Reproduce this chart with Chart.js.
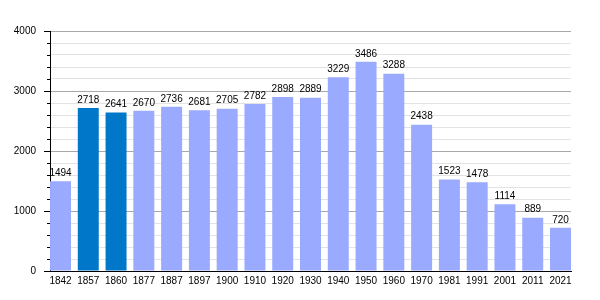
<!DOCTYPE html>
<html>
<head>
<meta charset="utf-8">
<script src="https://cdn.jsdelivr.net/npm/chart.js@4.4.1/dist/chart.umd.min.js"></script>
<style>
  html, body { margin: 0; padding: 0; background: #fff; }
  #wrap { width: 600px; height: 300px; }
</style>
</head>
<body>
<div id="wrap"><canvas id="pop-chart" width="600" height="300"></canvas></div>
<script>
var years = ['1842', '1857', '1860', '1877', '1887', '1897', '1900', '1910', '1920', '1930',
             '1940', '1950', '1960', '1970', '1981', '1991', '2001', '2011', '2021'];
var population = [1494, 2718, 2641, 2670, 2736, 2681, 2705, 2782, 2898, 2889,
                  3229, 3486, 3288, 2438, 1523, 1478, 1114, 889, 720];
var highlightYears = ['1857', '1860'];
var yTicks = [0, 1000, 2000, 3000, 4000];

var fontFam = '"Liberation Sans", Arial, sans-serif';

// value above every bar
var barLabels = {
  id: 'barLabels',
  afterDatasetsDraw: function (chart) {
    var c = chart.ctx;
    var meta = chart.getDatasetMeta(0);
    c.save();
    c.font = '10px ' + fontFam;
    c.fillStyle = '#000';
    c.textAlign = 'center';
    c.textBaseline = 'bottom';
    meta.data.forEach(function (bar, i) {
      c.fillText(population[i], bar.x, bar.y - 3);
    });
    c.restore();
  }
};

// short ticks every 200, long ones every 1000
var yTickMarks = {
  id: 'yTickMarks',
  afterDraw: function (chart) {
    var c = chart.ctx;
    var y = chart.scales.y;
    var left = chart.chartArea.left;
    c.save();
    c.strokeStyle = '#000';
    c.lineWidth = 1;
    for (var v = 0; v <= 4000; v += 200) {
      var py = Math.round(y.getPixelForValue(v)) + 0.5;
      var len = v % 1000 === 0 ? 6 : 3;
      c.beginPath();
      c.moveTo(left - len, py);
      c.lineTo(left, py);
      c.stroke();
    }
    c.restore();
  }
};

var ctx = document.getElementById('pop-chart').getContext('2d');
new Chart(ctx, {
  type: 'bar',
  data: {
    datasets: [{
      data: population.map(function (v, i) { return { x: i, y: v }; }),
      backgroundColor: years.map(function (y) {
        return highlightYears.indexOf(y) >= 0 ? '#0077c8' : '#99aaff';
      }),
      barPercentage: 0.755,
      categoryPercentage: 1
    }]
  },
  options: {
    responsive: false,
    animation: false,
    layout: { padding: { left: 0, right: 29, top: 31, bottom: 0 } },
    plugins: {
      legend: { display: false },
      tooltip: { enabled: false }
    },
    scales: {
      x: {
        type: 'linear',
        offset: false,
        min: -0.378,
        max: years.length - 1 + 0.378,
        afterBuildTicks: function (s) {
          s.ticks = years.map(function (_, i) { return { value: i }; });
        },
        afterFit: function (s) { s.height = 29; },
        grid: { display: false, drawTicks: false },
        border: { display: true, color: '#000', width: 1 },
        ticks: {
          autoSkip: false,
          maxRotation: 0,
          padding: 4,
          color: '#000',
          font: { family: fontFam, size: 10 },
          callback: function (v) { return years[v]; }
        }
      },
      y: {
        min: 0,
        max: 4000,
        afterBuildTicks: function (s) {
          var t = [];
          for (var v = 0; v <= 4000; v += 200) t.push({ value: v });
          s.ticks = t;
        },
        afterFit: function (s) { s.width = 50; },
        grid: {
          drawTicks: false,
          color: function (c) {
            return c.tick && c.tick.value % 1000 === 0 ? '#a8a8a8' : '#e3e3e3';
          }
        },
        border: { display: true, color: '#000', width: 1 },
        ticks: {
          autoSkip: false,
          padding: 14,
          color: '#000',
          font: { family: fontFam, size: 10 },
          callback: function (v) { return yTicks.indexOf(v) >= 0 ? v : ''; }
        }
      }
    }
  },
  plugins: [barLabels, yTickMarks]
});
</script>
</body>
</html>
